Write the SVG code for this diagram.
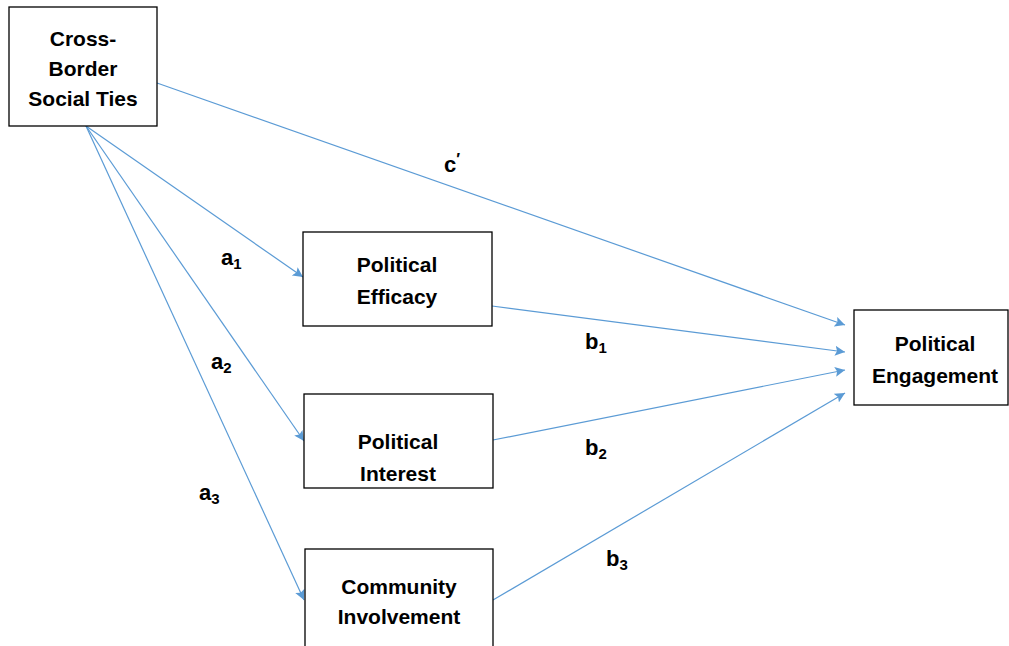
<svg xmlns="http://www.w3.org/2000/svg" width="1009" height="646" viewBox="0 0 1009 646">
<style>
.box{fill:#fff;stroke:#000;stroke-width:1.3}
.t{font-family:"Liberation Sans",Arial,sans-serif;font-weight:bold;font-size:21px;fill:#000;text-anchor:middle}
.lab{font-family:"Liberation Sans",Arial,sans-serif;font-weight:bold;font-size:22px;fill:#000}
.sub{font-size:15px}
.e{stroke:#5B9BD5;stroke-width:1.2;fill:none;marker-end:url(#ah)}
</style>
<defs>
<marker id="ah" viewBox="0 0 10 10" refX="10" refY="5" markerWidth="10" markerHeight="10" markerUnits="userSpaceOnUse" orient="auto">
<path d="M0,0 L10,5 L0,10 L2,5 Z" fill="#5B9BD5"/>
</marker>
</defs>
<rect width="1009" height="646" fill="#fff"/>
<g id="connectors">
<line class="e" x1="157" y1="83" x2="845" y2="325"/>
<line class="e" x1="86" y1="126" x2="303" y2="277"/>
<line class="e" x1="86" y1="126" x2="304" y2="441"/>
<line class="e" x1="86" y1="126" x2="304" y2="600"/>
<line class="e" x1="492" y1="306" x2="845" y2="352"/>
<line class="e" x1="493" y1="440" x2="845" y2="370"/>
<line class="e" x1="493" y1="600" x2="845" y2="393"/>
<text class="lab" x="444" y="172">c<tspan font-size="16" dy="-7">′</tspan></text>
<text class="lab" x="221" y="265">a<tspan class="sub" dy="4">1</tspan></text>
<text class="lab" x="211" y="369">a<tspan class="sub" dy="4">2</tspan></text>
<text class="lab" x="199" y="500">a<tspan class="sub" dy="4">3</tspan></text>
<text class="lab" x="585" y="349">b<tspan class="sub" dy="4">1</tspan></text>
<text class="lab" x="585" y="455">b<tspan class="sub" dy="4">2</tspan></text>
<text class="lab" x="606" y="566">b<tspan class="sub" dy="4">3</tspan></text>
</g>
<g id="cross-border">
<rect class="box" x="9" y="7" width="148" height="119"/>
<text class="t" x="83" y="46">Cross-</text>
<text class="t" x="83" y="76">Border</text>
<text class="t" x="83" y="106">Social Ties</text>
</g>
<g id="efficacy">
<rect class="box" x="303" y="232" width="189" height="94"/>
<text class="t" x="397" y="272">Political</text>
<text class="t" x="397" y="304">Efficacy</text>
</g>
<g id="interest">
<rect class="box" x="304" y="394" width="189" height="94"/>
<text class="t" x="398" y="449">Political</text>
<text class="t" x="398" y="481">Interest</text>
</g>
<g id="community">
<rect class="box" x="305" y="549" width="188" height="110"/>
<text class="t" x="399" y="594">Community</text>
<text class="t" x="399" y="624">Involvement</text>
</g>
<g id="engagement">
<rect class="box" x="854" y="310" width="154" height="95"/>
<text class="t" x="935" y="351">Political</text>
<text class="t" x="935" y="383">Engagement</text>
</g>
</svg>
